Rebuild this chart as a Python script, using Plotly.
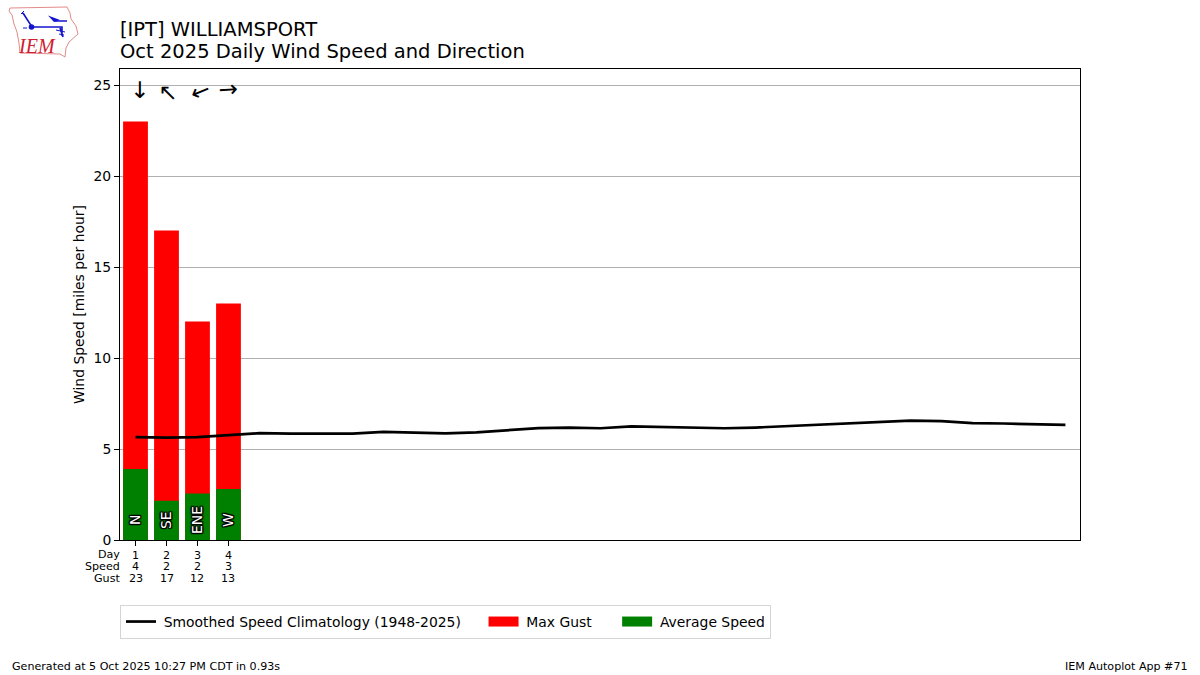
import base64
import plotly.graph_objects as go

days = [1, 2, 3, 4]
gust = [23, 17, 12, 13]
avg_speed = [3.9, 2.15, 2.55, 2.8]
speed_labels = [4, 2, 2, 3]
dir_labels = ["N", "SE", "ENE", "W"]
arrow_angle = [0, 135, 68, -94]
arrow_xshift = [3.5, 1, 2.5, 0.5]
arrow_yshift = [2, 0, 0, 3]
clim_days = list(range(1, 32))
clim = [5.65, 5.62, 5.65, 5.78, 5.87, 5.85, 5.84, 5.85, 5.94, 5.89, 5.86, 5.91, 6.02,
        6.15, 6.18, 6.14, 6.24, 6.2, 6.16, 6.14, 6.18, 6.25, 6.34, 6.4, 6.49, 6.56,
        6.53, 6.42, 6.4, 6.38, 6.33]
title_lines = ["[IPT] WILLIAMSPORT", "Oct 2025 Daily Wind Speed and Direction"]
FONT = "DejaVu Sans"
PLOT_TOP = 69
PLOT_H = 471


def px(x):
    return (x - 120) / 960


def py(y):
    return (540 - y) / PLOT_H


fig = go.Figure()
fig.add_trace(go.Scatter(x=clim_days, y=clim, mode="lines", name="\u2009Smoothed Speed Climatology (1948-2025)\u00a0\u00a0\u00a0\u00a0",
                         line=dict(color="black", width=2.7), showlegend=True))
fig.add_trace(go.Bar(x=days, y=gust, name="Max Gust", marker=dict(color="red", line_width=0), width=0.8, showlegend=False))
fig.add_trace(go.Bar(x=days, y=avg_speed, name="Average Speed", marker=dict(color="green", line_width=0), width=0.8, showlegend=False))
fig.add_trace(go.Scatter(x=[None], y=[None], mode="lines", name="\u2009Max Gust\u00a0\u00a0\u00a0\u00a0\u2009", line=dict(color="red", width=10)))
fig.add_trace(go.Scatter(x=[None], y=[None], mode="lines", name="\u2009Average Speed", line=dict(color="green", width=10)))

svg = """<svg xmlns='http://www.w3.org/2000/svg' width='100' height='70' viewBox='0 0 100 70'>
<path d='M10 8 L9 11 L12 15 L14 24 L17 32 L19 43 L20 53 L60 54 L65 57 L66 48 L69 42 L78 34 L76 26 L71 19 L70 13 L67 7 Z' fill='none' stroke='#e28a8a' stroke-width='1'/>
<path d='M23 13 L32 27 L62 27 L62 36 M55 21 L67 21 M60 28 L63 37' fill='none' stroke='#1414d0' stroke-width='1.6'/>
<circle cx='31.5' cy='27' r='2.8' fill='#1414d0'/>
<path d='M48 15.5 L60 20 L54 22 Z' fill='#1414d0'/>
<path d='M21 14 L24 11 M22 13 L25 15 M56 30 L65 32 M59 34 L64 35 M23 28 L27 28' stroke='#1414d0' fill='none'/>
</svg>"""
logo = "data:image/svg+xml;base64," + base64.b64encode(svg.encode()).decode()

fig.add_layout_image(dict(source=logo, xref="paper", yref="paper", x=px(0), y=py(0),
                          sizex=100/960, sizey=70/PLOT_H, xanchor="left", yanchor="top",
                          sizing="stretch", layer="above"))


def note(text, x, y, anchor="left", size=11.1, **kw):
    return dict(text=text, xref="paper", yref="paper", x=px(x), y=py(y), showarrow=False, xanchor=anchor,
                yanchor="middle", borderpad=0, borderwidth=0,
                font=dict(family=FONT, size=size, color="black"), **kw)


ann = [
    dict(text="<i>IEM</i>", xref="paper", yref="paper", x=px(37), y=py(46), showarrow=False,
         font=dict(family="Liberation Serif", size=20, color="#d02030"), xanchor="center", yanchor="middle"),
    note(title_lines[0], 120, 29, size=19.5),
    note(title_lines[1], 120, 51, size=19.5),
    note("Day", 120, 554, "right"),
    note("Speed", 120, 566, "right"),
    note("Gust", 120, 578, "right"),
    note("Generated at 5 Oct 2025 10:27 PM CDT in 0.93s", 12, 666),
    note("IEM Autoplot App #71", 1188, 666, "right"),
]
OUT = ", ".join(f"{a}px {b}px 1px #000" for a in (-1, 0, 1) for b in (-1, 0, 1))
for d, lab, ang, xs, ys, sp, g in zip(days, dir_labels, arrow_angle, arrow_xshift, arrow_yshift, speed_labels, gust):
    ann.append(dict(text=lab, x=d, y=1.1, textangle=-90, showarrow=False, xshift=-0.5,
                    font=dict(family=FONT, size=13.9, color="white", shadow=OUT)))
    ann.append(dict(text="↓", x=d, y=24.6, textangle=ang, showarrow=False, xshift=xs, yshift=ys,
                    font=dict(family=FONT, size=23, color="black")))
    ann.append(dict(text=str(sp), x=d, xref="x", yref="paper", y=py(566), showarrow=False, yanchor="middle",
                    borderpad=0, font=dict(family=FONT, size=11.1, color="black")))
    ann.append(dict(text=str(g), x=d, xref="x", yref="paper", y=py(578), showarrow=False, yanchor="middle",
                    borderpad=0, font=dict(family=FONT, size=11.1, color="black")))

fig.update_layout(
    width=1200, height=675, autosize=False, margin=dict(l=120, r=120, t=PLOT_TOP, b=135, pad=0),
    paper_bgcolor="white", plot_bgcolor="white", barmode="overlay", bargap=0.2,
    font=dict(family=FONT, size=13.9, color="black"),
    annotations=ann,
    xaxis=dict(range=[0.5, 31.47], tickmode="array", tickvals=days, ticktext=[str(d) for d in days], ticks="outside",
               ticklen=5, tickwidth=1, tickcolor="black", tickfont=dict(size=11.1), showgrid=False, zeroline=False,
               showline=True, linecolor="black", linewidth=1, mirror=True, tickangle=0),
    yaxis=dict(range=[0, 25.88], tickvals=[0, 5, 10, 15, 20, 25], ticks="outside", ticklen=5, tickwidth=1,
               tickcolor="black", showgrid=True, gridcolor="#b0b0b0", gridwidth=1, zeroline=False,
               showline=True, linecolor="black", linewidth=1, mirror=True,
               title=dict(text="Wind Speed [miles per hour]", font=dict(size=13.9), standoff=5)),
    legend=dict(orientation="h", x=0, y=py(605), xanchor="left", yanchor="top", bgcolor="white",
                bordercolor="#d5d5d5", borderwidth=1, font=dict(size=13.9), itemwidth=30, traceorder="normal"),
)
fig.write_html("out.html", config=dict(displayModeBar=False),
               post_script="document.body.style.margin='0';document.body.style.overflow='hidden';")
